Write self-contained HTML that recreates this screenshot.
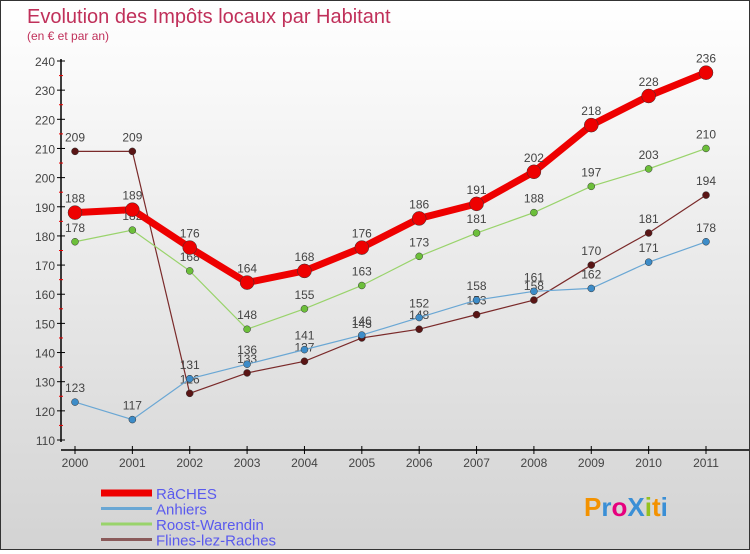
<!DOCTYPE html>
<html><head><meta charset="utf-8"><style>
html,body{margin:0;padding:0}
body{width:750px;height:550px;overflow:hidden;font-family:"Liberation Sans",sans-serif}
#wrap{position:relative;width:748px;height:548px;border:1px solid #333;background:linear-gradient(#ffffff,#d3d3d3)}
</style></head><body>
<div id="wrap">
<svg id="chart" width="748" height="548">
<text x="26" y="22" font-size="20" fill="#c0305a">Evolution des Impôts locaux par Habitant</text>
<text x="26" y="39" font-size="12" fill="#c0305a">(en € et par an)</text>
<g id="axes"></g><g id="series"></g><g id="legend"></g>
<text x="583" y="515" font-size="26" font-weight="bold"><tspan fill="#f39200">P</tspan><tspan fill="#3a8fd6">r</tspan><tspan fill="#e6007e">o</tspan><tspan fill="#3a8fd6">X</tspan><tspan fill="#95c11f">i</tspan><tspan fill="#f39200">t</tspan><tspan fill="#3a8fd6">i</tspan></text>
</svg>
</div>
<script>
const years=[2000,2001,2002,2003,2004,2005,2006,2007,2008,2009,2010,2011];
const yTicks=[110,120,130,140,150,160,170,180,190,200,210,220,230,240];
const raches=[188,189,176,164,168,176,186,191,202,218,228,236];
const anhiers=[123,117,131,136,141,146,152,158,161,162,171,178];
const roost=[178,182,168,148,155,163,173,181,188,197,203,210];
const flines=[209,209,126,133,137,145,148,153,158,170,181,194];
const NS="http://www.w3.org/2000/svg";
const xS=i=>74+i*(705-74)/11;
const yS=v=>439-(v-110)*(439-60)/130;
function mk(p,t,a){const e=document.createElementNS(NS,t);for(const k in a)e.setAttribute(k,a[k]);p.appendChild(e);return e;}
const ax=document.getElementById('axes');
const yl=mk(ax,'line',{x1:60,y1:58,x2:60,y2:441,stroke:'#000','stroke-width':1.5});


const xl=mk(ax,'line',{x1:60,y1:449,x2:748,y2:449,stroke:'#000','stroke-width':1.5});


yTicks.forEach(v=>{const y=yS(v);
mk(ax,'line',{x1:56,y1:y,x2:64,y2:y,stroke:'#000'});
if(v<240)mk(ax,'line',{x1:58,y1:yS(v+5),x2:62,y2:yS(v+5),stroke:'#e00'});
const t=mk(ax,'text',{x:54,y:y+5,'text-anchor':'end','font-size':12,fill:'#444'});t.textContent=v;

});
years.forEach((yr,i)=>{const x=xS(i);
mk(ax,'line',{x1:x,y1:445,x2:x,y2:453,stroke:'#000'});
const t=mk(ax,'text',{x:x,y:466,'text-anchor':'middle','font-size':12,fill:'#444'});t.textContent=yr;

});
const sg=document.getElementById('series');
const S=[[flines,'#7a2a2a','#5a1515',1.2,3.5,'flines'],[roost,'#99d36b','#6cbf3a',1.2,3.5,'roost'],[anhiers,'#6aa7d4','#3d8cc8',1.2,3.5,'anhiers'],[raches,'#ee0000','#ee0000',7,7,'raches']];
S.forEach(([d,c,mc,w,r,n])=>{
const pl=mk(sg,'polyline',{points:d.map((v,i)=>xS(i)+','+yS(v)).join(' '),fill:'none',stroke:c,'stroke-width':w});


d.forEach((v,i)=>{const p=mk(sg,'circle',{cx:xS(i),cy:yS(v),r:r,fill:mc,stroke:'#333','stroke-width':0.5});


const t=mk(sg,'text',{x:xS(i),y:yS(v)-10,'text-anchor':'middle','font-size':12,fill:'#444'});t.textContent=v;

});});
const lg=document.getElementById('legend');
[['RâCHES','#ee0000',7],['Anhiers','#6aa7d4',3],['Roost-Warendin','#99d36b',3],['Flines-lez-Raches','#8a5a5a',3]].forEach(([n,c,w],i)=>{
const y=492+i*15.5;
const l=mk(lg,'line',{x1:100,y1:y,x2:151,y2:y,stroke:c,'stroke-width':w});


const t=mk(lg,'text',{x:155,y:y+6,'font-size':15,fill:'#5a5aee'});t.textContent=n;

});
</script>
</body></html>
